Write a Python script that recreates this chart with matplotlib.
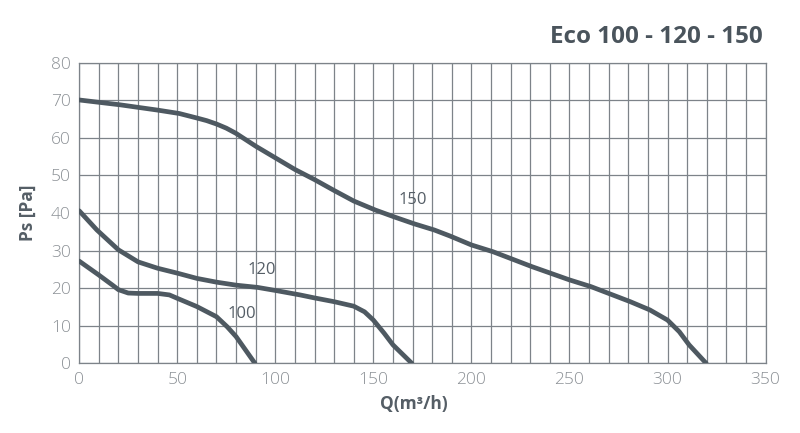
import matplotlib
matplotlib.use('Agg')
import matplotlib.pyplot as plt
import numpy as np

# curve data (Q in m3/h, Ps in Pa)
q_100 = [0, 10, 17, 20, 25, 30, 40, 46, 50, 60, 70, 75.5, 80, 89.6]
ps_100 = [27.2, 23.5, 20.8, 19.6, 18.7, 18.6, 18.6, 18.2, 17.3, 15.1, 12.4, 9.7, 7.1, 0.0]

q_120 = [0, 9, 20, 30, 40, 50, 60, 70, 80, 91, 101, 112.6, 120, 130, 140, 145.5, 150,
         155.5, 160, 169.6]
ps_120 = [40.6, 35.5, 30.2, 27.0, 25.3, 24.0, 22.6, 21.6, 20.8, 20.2, 19.3, 18.2, 17.4, 16.4,
          15.2, 13.7, 11.5, 8.0, 4.9, 0.0]

q_150 = [0, 21, 40, 51, 60, 65, 70, 75, 80, 90, 100, 110, 120, 130, 140, 151, 161, 171, 181,
         189, 200, 211, 231, 250, 261, 281, 291, 300, 306, 311, 319.7]
ps_150 = [70.1, 68.8, 67.4, 66.5, 65.3, 64.6, 63.7, 62.6, 61.2, 57.8, 54.7, 51.6, 48.9, 46.0,
          43.2, 40.8, 38.9, 37.1, 35.5, 33.9, 31.5, 29.7, 25.7, 22.2, 20.4, 16.4, 14.2, 11.5,
          8.4, 4.9, 0.0]

curves = [(q_100, ps_100, '100', (83, 13.0)),
          (q_120, ps_120, '120', (93, 24.8)),
          (q_150, ps_150, '150', (170, 43.5))]

LINE_C = '#4e5961'
GRID_C = '#7d8389'
TICK_C = '#8c9196'
TEXT_C = '#555e66'

plt.rcParams['font.family'] = ['Open Sans', 'DejaVu Sans']

fig = plt.figure(figsize=(8, 4.33), dpi=100)
ax = fig.add_axes([0.099, 0.161, 0.858, 0.694])

for q, ps, name, (lx, ly) in curves:
    ax.plot(q, ps, color=LINE_C, lw=3.4, solid_capstyle='round', solid_joinstyle='round', zorder=3)
    ax.text(lx, ly, name, fontsize=12, color=TEXT_C, ha='center', va='center', zorder=4)

ax.set_xlim(0, 350)
ax.set_ylim(0, 80)
ax.set_xticks(np.arange(0, 351, 50))
ax.set_yticks(np.arange(0, 81, 10))
ax.set_xticks(np.arange(0, 351, 10), minor=True)
ax.grid(True, which='both', color=GRID_C, lw=0.9, zorder=1)
ax.tick_params(which='both', length=0, colors=TICK_C, labelsize=12.5, pad=6)
for lbl in ax.get_xticklabels() + ax.get_yticklabels():
    lbl.set_fontweight('light')
for sp in ax.spines.values():
    sp.set_color(GRID_C)
    sp.set_linewidth(0.9)

ax.set_xlabel('Q(m³/h)', fontsize=12.5, fontweight='bold', color=TEXT_C, labelpad=5, x=0.487)
ax.set_ylabel('Ps [Pa]', fontsize=12.5, fontweight='bold', color=TEXT_C, labelpad=10)

fig.text(0.953, 0.915, 'Eco 100 - 120 - 150', fontsize=17.5, fontweight='bold',
         color='#4a545c', ha='right', va='center')

fig.savefig('out.png', dpi=100)
